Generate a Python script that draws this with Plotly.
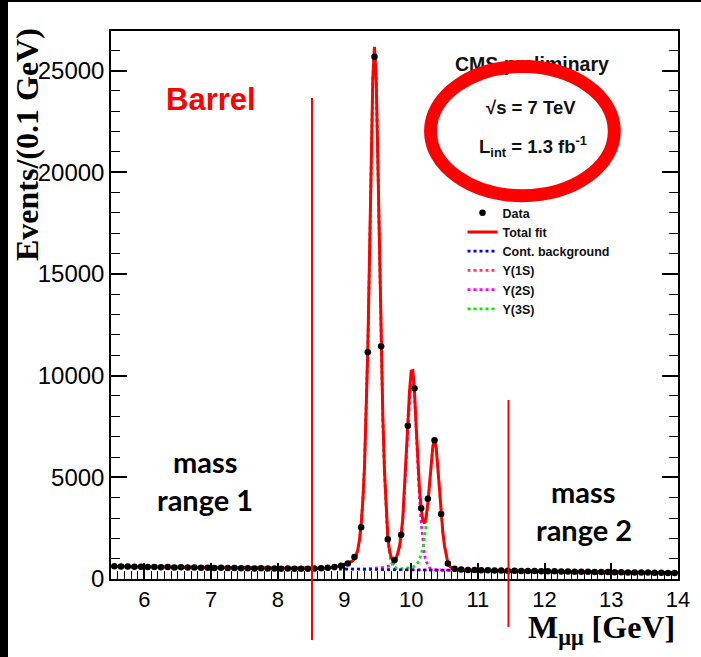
import plotly.graph_objects as go

# ---------------------------------------------------------------------------
# Dimuon invariant-mass spectrum, barrel region (0.1 GeV bins, 5.5-14 GeV)
# ---------------------------------------------------------------------------
bin_lo, bin_w, n_bins = 5.5, 0.1, 85
mass_bins = [round(bin_lo + bin_w * (i + 0.5), 2) for i in range(n_bins)]

events = [
    628, 612, 618, 600, 608, 590, 596, 582, 586, 571,
    575, 563, 568, 552, 558, 545, 549, 536, 541, 530,
    534, 522, 526, 515, 520, 510, 514, 503, 508, 499,
    512, 528, 552, 590, 655, 760, 1080, 2550, 11150, 25680,
    11450, 1950, 940, 2180, 7540, 9380, 3480, 3950, 6820, 3200,
    760, 505, 462, 448, 441, 433, 428, 420, 417, 409,
    405, 398, 396, 388, 386, 379, 377, 370, 368, 361,
    359, 352, 350, 343, 341, 334, 332, 325, 323, 316,
    314, 307, 305, 298, 296,
]

# Fit curves: fine grid through the resonance region (8.6-10.8 GeV, 25 MeV steps)
fit_mass = [round(8.6 + 0.025 * i, 3) for i in range(89)]

bkg_grid = [
    489, 488, 488, 487, 487, 486, 485, 485, 484, 484,
    483, 482, 482, 481, 481, 480, 479, 479, 478, 478,
    477, 476, 476, 475, 475, 474, 473, 473, 472, 472,
    471, 470, 470, 469, 469, 468, 467, 467, 466, 466,
    465, 464, 464, 463, 463, 462, 461, 461, 460, 460,
    459, 458, 458, 457, 457, 456, 455, 455, 454, 454,
    453, 452, 452, 451, 451, 450, 449, 449, 448, 448,
    447, 446, 446, 445, 445, 444, 443, 443, 442, 442,
    441, 440, 440, 439, 439, 438, 437, 437, 436,
]

sig_1s = [
    20, 26, 31, 36, 41, 46, 54, 64, 74, 87,
    100, 120, 141, 159, 179, 205, 231, 256, 279, 318,
    361, 415, 518, 674, 959, 1435, 2196, 3329, 5008, 7443,
    10831, 15255, 20109, 24079, 25630, 24079, 20109, 15255, 10831, 7392,
    4742, 2599, 1399, 761, 390, 190, 85, 38, 15, 5,
] + [0] * 39

sig_2s = [0] * 16 + [
    4, 5, 6, 7, 8, 9, 11, 13, 15, 17,
    20, 23, 27, 31, 35, 42, 49, 56, 63, 70,
    78, 87, 97, 105, 118, 132, 150, 170, 200, 255,
    340, 500, 750, 1100, 1650, 2500, 3850, 5365, 7080, 8666,
    9658, 9659, 8559, 6803, 4980, 3461, 2284, 1358, 738, 400,
    211, 106, 49, 22, 10, 4, 2,
] + [0] * 16

sig_3s = [0] * 32 + [
    5, 6, 7, 8, 9, 10, 12, 14, 16, 19,
    22, 25, 28, 33, 37, 41, 45, 50, 56, 61,
    68, 75, 84, 94, 110, 135, 174, 239, 344, 507,
    740, 1076, 1548, 2215, 3074, 4130, 5218, 6063, 6385, 5999,
    5010, 3800, 2698, 1841, 1181, 647, 349, 190, 97, 47,
    21, 10, 4, 1,
] + [0] * 3

# Continuum away from the resonances
bkg_left_mass = [5.5, 6.0, 6.5, 7.0, 7.5, 8.0, 8.25, 8.5]
bkg_left = [610, 592, 573, 554, 536, 518, 508, 500]
bkg_right_mass = [11.0, 11.5, 12.0, 12.5, 13.0, 13.5, 14.0]
bkg_right = [430, 412, 392, 372, 351, 329, 306]

x_ticks = [6, 7, 8, 9, 10, 11, 12, 13, 14]
y_ticks = [0, 5000, 10000, 15000, 20000, 25000]

# ---------------------------------------------------------------------------
full_mass = bkg_left_mass + fit_mass + bkg_right_mass
pad_l, pad_r = [0] * len(bkg_left), [0] * len(bkg_right)
bkg_full = bkg_left + bkg_grid + bkg_right
s1_full = pad_l + sig_1s + pad_r
s2_full = pad_l + sig_2s + pad_r
s3_full = pad_l + sig_3s + pad_r

total_fit = [b + a + c + d for b, a, c, d in zip(bkg_full, s1_full, s2_full, s3_full)]
curve_1s = [b + a for b, a in zip(bkg_full, s1_full)]
curve_2s = [b + c for b, c in zip(bkg_full, s2_full)]
curve_3s = [b + a + d for b, a, d in zip(bkg_full, s1_full, s3_full)]

SANS = "Liberation Sans"
SERIF = "Liberation Serif"
DOT = "3px,3px"

fig = go.Figure()

def dotted(y, color, name, rank):
    fig.add_trace(go.Scatter(
        x=full_mass, y=y, mode="lines", name=name, legendrank=rank,
        line=dict(color=color, width=2.6, dash=DOT), hoverinfo="skip"))

dotted(curve_1s, "#ff3a5e", "Υ(1S)", 4)
dotted(curve_2s, "#ff00ff", "Υ(2S)", 5)
dotted(curve_3s, "#00ee00", "Υ(3S)", 6)
dotted(bkg_full, "#0000ff", "Cont. background", 3)

fig.add_trace(go.Scatter(
    x=full_mass, y=total_fit, mode="lines", name="Total fit", legendrank=2,
    line=dict(color="#ff0000", width=3), hoverinfo="skip"))

fig.add_trace(go.Scatter(
    x=mass_bins, y=events, mode="markers", name="Data", legendrank=1,
    marker=dict(color="black", size=6.5)))

# CMS label sits in the plot layer so the ring can be drawn over it
fig.add_trace(go.Scatter(
    x=[11.81], y=[25240], mode="text", text=["CMS preliminary"],
    textfont=dict(family=SANS, size=19.5, color="#111111", weight="bold"),
    showlegend=False, hoverinfo="skip"))

L, R, T, B = 111, 23, 31, 78
W, H = 701, 657
pw, ph = W - L - R, H - T - B

def px(xp):
    return (xp - L) / pw

def py(yp):
    return (H - B - yp) / ph

shapes = [
    # highlight ring around the energy / luminosity labels
    dict(type="circle", xref="x", yref="y", x0=10.29, x1=13.045, y0=18850, y1=25200,
         line=dict(color="#ff0000", width=13), layer="above"),
    # mass-window boundaries
    dict(type="line", xref="paper", yref="paper", x0=px(312), x1=px(312),
         y0=py(640), y1=py(98), line=dict(color="#ff0000", width=2), layer="above"),
    dict(type="line", xref="paper", yref="paper", x0=px(508.5), x1=px(508.5),
         y0=py(627), y1=py(400), line=dict(color="#ff0000", width=2), layer="above"),
    # dark page border
    dict(type="rect", xref="paper", yref="paper", x0=px(0), x1=px(8), y0=py(H), y1=py(0),
         fillcolor="black", line=dict(width=0), layer="above"),
    dict(type="rect", xref="paper", yref="paper", x0=px(0), x1=px(W), y0=py(2), y1=py(0),
         fillcolor="black", line=dict(width=0), layer="above"),
]

LABEL_FONT = dict(family="Lato", size=29, color="black", weight="bold")

annotations = [
    dict(x=7.0, y=23570, xref="x", yref="y", text="Barrel", showarrow=False,
         font=dict(family=SANS, size=31, color="#ff0000", weight="bold")),
    dict(x=6.92, y=5800, xref="x", yref="y", text="mass", showarrow=False, font=LABEL_FONT),
    dict(x=6.91, y=3900, xref="x", yref="y", text="range 1", showarrow=False, font=LABEL_FONT),
    dict(x=12.59, y=4320, xref="x", yref="y", text="mass", showarrow=False, font=LABEL_FONT),
    dict(x=12.59, y=2420, xref="x", yref="y", text="range 2", showarrow=False, font=LABEL_FONT),
    dict(x=11.8, y=23170, xref="x", yref="y", text="√s = 7 TeV", showarrow=False,
         font=dict(family=SANS, size=18.5, color="#111111", weight="bold")),
    dict(x=11.82, y=21270, xref="x", yref="y", text="L<sub>int</sub> = 1.3 fb<sup>-1</sup>",
         showarrow=False, font=dict(family=SANS, size=18.5, color="#111111", weight="bold")),
    # axis titles
    dict(x=px(677), y=py(629), xref="paper", yref="paper", xanchor="right", yanchor="middle",
         text="M<sub>μμ</sub> [GeV]", showarrow=False,
         font=dict(family=SERIF, size=32, color="black", weight="bold")),
    dict(x=px(27), y=py(145), xref="paper", yref="paper", xanchor="center", yanchor="middle",
         text="Events/(0.1 GeV)", textangle=-90, showarrow=False,
         font=dict(family=SERIF, size=32, color="black", weight="bold")),
]

fig.update_layout(
    width=W, height=H,
    margin=dict(l=L, r=R, t=T, b=B, pad=0),
    paper_bgcolor="white", plot_bgcolor="white",
    font=dict(family=SANS, color="black"),
    showlegend=True,
    legend=dict(x=px(462.5), y=py(198), xanchor="left", yanchor="top",
                bgcolor="rgba(0,0,0,0)", borderwidth=0,
                font=dict(family=SANS, size=12.5, color="#111111", weight="bold"),
                itemwidth=30, tracegroupgap=0),
    shapes=shapes, annotations=annotations,
    xaxis=dict(range=[5.5, 14], tickvals=x_ticks, ticks="inside", ticklen=16, tickwidth=1.5,
               tickcolor="black", showline=True, linecolor="black", linewidth=1.5,
               mirror=True, showgrid=False, zeroline=False,
               tickfont=dict(family=SANS, size=22, color="black"),
               minor=dict(dtick=0.1, tick0=5.5, ticks="inside", ticklen=8,
                          tickwidth=1.2, tickcolor="black", showgrid=False)),
    yaxis=dict(range=[0, 26950], tickvals=y_ticks, tickformat="d", ticks="inside",
               ticklen=16, tickwidth=1.5,
               tickcolor="black", showline=True, linecolor="black", linewidth=1.5,
               mirror="ticks", showgrid=False, zeroline=False,
               tickfont=dict(family=SANS, size=24, color="black"),
               minor=dict(dtick=1000, tick0=0, ticks="inside", ticklen=9,
                          tickwidth=1.2, tickcolor="black", showgrid=False)),
)

fig.write_html("out.html")
